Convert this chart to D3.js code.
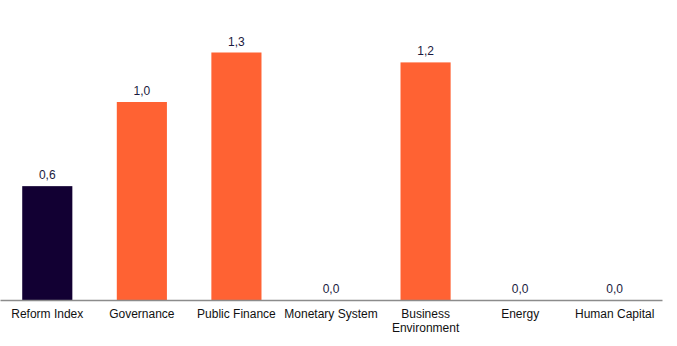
<!DOCTYPE html>
<html><head><meta charset="utf-8">
<script src="https://cdn.jsdelivr.net/npm/d3@7"></script>
<style>body{margin:0;background:#fff}svg{display:block}</style>
</head><body>
<script>
const categories = ["Reform Index","Governance","Public Finance","Monetary System","Business Environment","Energy","Human Capital"];
const labelLines = [["Reform Index"],["Governance"],["Public Finance"],["Monetary System"],["Business","Environment"],["Energy"],["Human Capital"]];
const values = [0.575, 1.0, 1.25, 0.0, 1.2, 0.0, 0.0];
const barColors = ["#120033","#FF6233","#FF6233","#FF6233","#FF6233","#FF6233","#FF6233"];

const W = 677, H = 346;
const svg = d3.select("body").append("svg").attr("width", W).attr("height", H);
const x = d3.scaleBand().domain(categories).range([0, 662]).paddingInner(0.47).paddingOuter(0.235);
const y = d3.scaleLinear().domain([0, 1.5]).range([300, 3]);

svg.selectAll("rect.bar").data(categories).enter().append("rect")
  .attr("x", d => x(d)).attr("width", x.bandwidth())
  .attr("y", (d,i) => y(values[i])).attr("height", (d,i) => y(0) - y(values[i]))
  .attr("fill", (d,i) => barColors[i]);

svg.selectAll("text.val").data(categories).enter().append("text")
  .attr("x", d => x(d) + x.bandwidth()/2)
  .attr("y", (d,i) => y(values[i]) - 7)
  .attr("text-anchor", "middle")
  .attr("font-family", "Liberation Sans, Arial, sans-serif").attr("font-size", 12)
  .attr("fill", "#1a1a40")
  .text((d,i) => values[i].toFixed(1).replace(".", ","));

const axis = d3.axisBottom(x).tickSize(0).tickSizeOuter(0).tickFormat("");
const g = svg.append("g").attr("transform", "translate(0,300)").call(axis);
g.select(".domain").attr("stroke", "#8c8c8c").attr("stroke-width", 1.5);

const lab = svg.selectAll("text.cat").data(categories).enter().append("text")
  .attr("text-anchor", "middle")
  .attr("font-family", "Liberation Sans, Arial, sans-serif").attr("font-size", 12)
  .attr("fill", "#111");
lab.each(function(d,i){
  const t = d3.select(this);
  labelLines[i].forEach((ln, k) => {
    t.append("tspan").attr("x", x(d) + x.bandwidth()/2).attr("y", 318 + k*14).text(ln);
  });
});
</script>
</body></html>
